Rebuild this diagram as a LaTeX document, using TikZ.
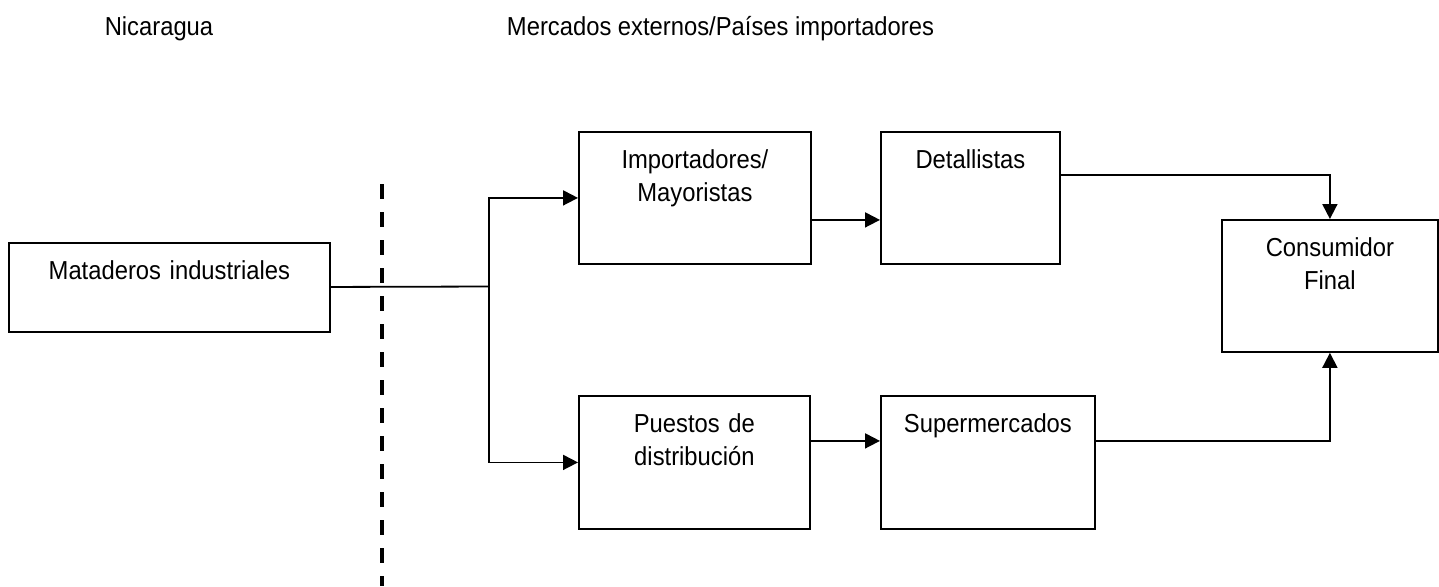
\documentclass[tikz,border=0pt]{standalone}
\usepackage{fontspec}
\setmainfont[FakeStretch=0.915]{Liberation Sans}
\usetikzlibrary{arrows.meta}

\begin{document}
\begin{tikzpicture}[
    x=0.5pt, y=-0.5pt,
    every node/.style={font=\fontsize{13pt}{16.5pt}\selectfont},
    chainbox/.style={draw, line width=0.9pt, inner sep=0pt, anchor=north west,
      align=center, text height=18.5pt},
    heading/.style={anchor=base, inner sep=0pt},
    flow/.style={line width=0.9pt, -{Triangle[length=7.5pt,width=7.5pt]}},
    border/.style={line width=1.75pt, dash pattern=on 7.5pt off 6.5pt}
  ]
  \useasboundingbox (0,0) rectangle (1439,586);
  \node[heading] (nic) at (159,35) {Nicaragua};
  \node[heading] (mer) at (720.5,35) {Mercados externos/Países importadores};

  \node[chainbox, text width=160.5pt, text depth=26pt] (mat) at (8,242) {Mataderos industriales};
  \node[chainbox, text width=116pt, text depth=47.5pt] (imp) at (578,131) {Importadores/\\Mayoristas};
  \node[chainbox, text width=89.5pt, text depth=47.5pt] (det) at (880,131) {Detallistas};
  \node[chainbox, text width=115.5pt, text depth=48pt] (pue) at (578,395) {Puestos de\\distribución};
  \node[chainbox, text width=107pt, text depth=48pt] (sup) at (880,395) {Supermercados};
  \node[chainbox, text width=108pt, text depth=47.5pt] (con) at (1221,219) {Consumidor\\Final};

  \coordinate (split) at (489,286.5);
  \coordinate (bordertop) at (382,184);
  \coordinate (borderbot) at (382,586);

  \draw[border] (bordertop) -- (borderbot);
  \draw[line width=0.9pt] (mat) -- (split);
  \draw[flow] (split) |- (imp);
  \draw[flow] (split) |- (pue);
  \path[flow]
    ([yshift=-11pt]imp.east) edge ([yshift=-11pt]det.west)
    ([yshift=10.75pt]pue.east) edge ([yshift=10.75pt]sup.west);
  \draw[flow] ([yshift=11.5pt]det.east) -| (con);
  \draw[flow] ([yshift=10.75pt]sup.east) -| (con);
\end{tikzpicture}
\end{document}
